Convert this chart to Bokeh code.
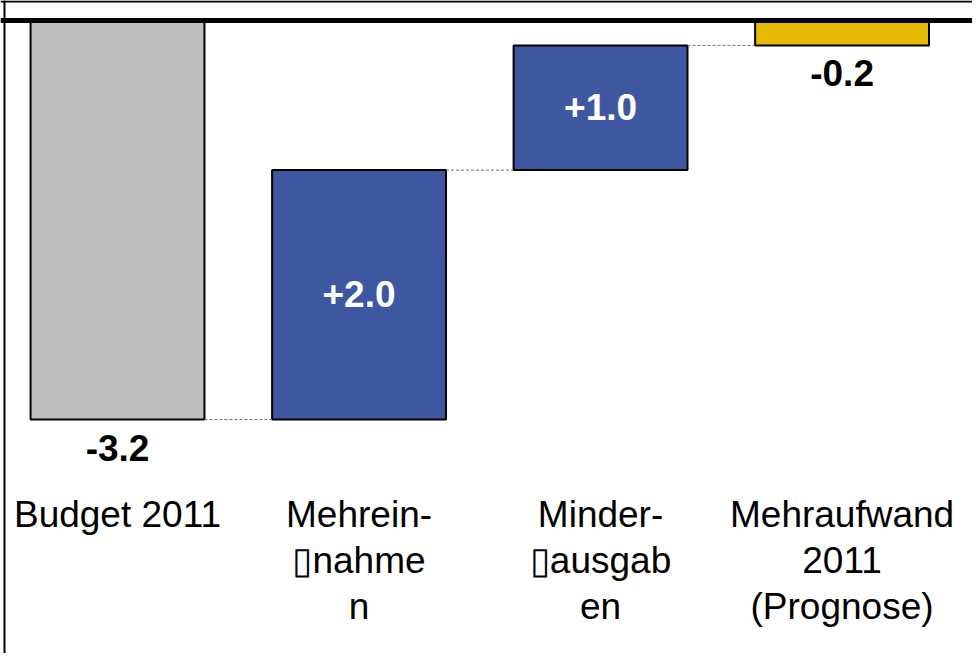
from bokeh.plotting import figure
from bokeh.models import Range1d, Span, ColumnDataSource
from bokeh.core.properties import value
from bokeh.embed import file_html
from bokeh.resources import INLINE

categories = ["Budget 2011", "Mehrein-\n\u25afnahme\nn", "Minder-\n\u25afausgab\nen", "Mehraufwand\n2011\n(Prognose)"]
values = [-3.2, 2.0, 1.0, -0.2]
value_labels = ["-3.2", "+2.0", "+1.0", "-0.2"]
is_total = [True, False, False, True]
colors = ["#BEBEBE", "#3D58A0", "#3D58A0", "#E6B800"]

xs = list(range(len(categories)))
bottoms, tops, ends = [], [], []
run = 0.0
for v, tot in zip(values, is_total):
    if tot:
        b, t = min(0.0, v), max(0.0, v)
        run = v
    else:
        start = run
        run = run + v
        b, t = min(start, run), max(start, run)
    bottoms.append(b)
    tops.append(t)
    ends.append(run)

p = figure(width=972, height=653, x_range=Range1d(-0.4845, 3.540), y_range=Range1d(-5.076, 0.160),
           output_backend="svg", toolbar_location=None, min_border=0)
p.axis.visible = False
p.grid.visible = False
p.outline_line_color = None
p.background_fill_color = "white"

W = 0.72
src = ColumnDataSource(dict(x=xs, bottom=bottoms, top=tops, color=colors))
p.vbar(x="x", bottom="bottom", top="top", width=W, fill_color="color", line_color="black", line_width=2, source=src)

# connectors
cx0 = [xs[i] + W / 2 for i in range(len(xs) - 1)]
cx1 = [xs[i + 1] - W / 2 for i in range(len(xs) - 1)]
cy = [ends[i] for i in range(len(xs) - 1)]
p.segment(x0=cx0, y0=cy, x1=cx1, y1=cy, line_color="#6F6F6F", line_width=1, line_dash="3 2")

# frame lines (canvas units)
p.add_layout(Span(location=4, dimension="height", location_units="canvas", line_color="black", line_width=2))
p.add_layout(Span(location=1, dimension="width", location_units="canvas", line_color="black", line_width=2))
# zero line
p.add_layout(Span(location=0, dimension="width", line_color="black", line_width=5))

# value labels
inside_x, inside_y, inside_t = [], [], []
below_x, below_y, below_t = [], [], []
for i, (v, tot) in enumerate(zip(values, is_total)):
    if tot:
        below_x.append(xs[i]); below_y.append(bottoms[i]); below_t.append(value_labels[i])
    else:
        inside_x.append(xs[i]); inside_y.append((bottoms[i] + tops[i]) / 2); inside_t.append(value_labels[i])

p.text(x=inside_x, y=inside_y, text=inside_t, text_color="white", text_font=value("Liberation Sans"),
       text_font_style="bold", text_font_size="37px", text_align="center", text_baseline="middle", y_offset=-1)
p.text(x=below_x, y=below_y, text=below_t, text_color="black", text_font=value("Liberation Sans"),
       text_font_style="bold", text_font_size="37px", text_align="center", text_baseline="middle", y_offset=28)

# category labels
low = min(bottoms)
p.text(x=xs, y=[low] * len(xs), text=categories, text_color="black", text_font=value("Liberation Sans"),
       text_font_size="37px", text_align="center", text_baseline="top", y_offset=74, text_line_height=1.13)

open("out.html", "w").write(file_html(p, INLINE))
